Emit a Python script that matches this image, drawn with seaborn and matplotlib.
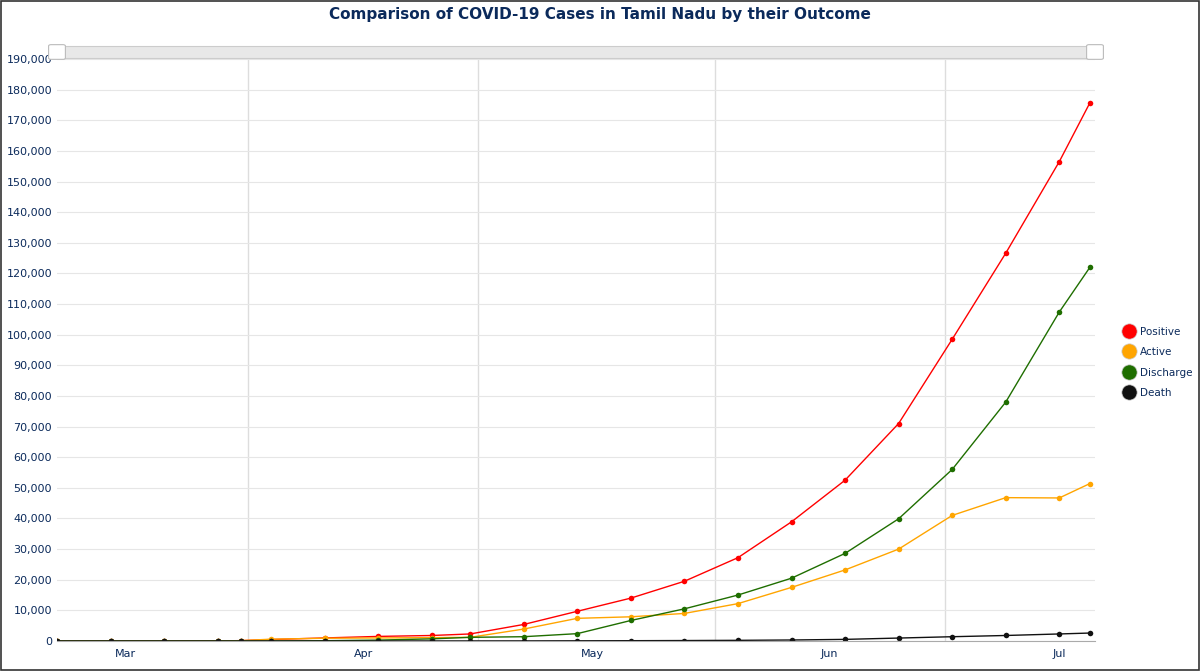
import matplotlib
matplotlib.use("Agg")
import matplotlib.pyplot as plt
import matplotlib.dates as mdates
from matplotlib.patches import FancyBboxPatch, Rectangle
from matplotlib.lines import Line2D
import seaborn as sns
import pandas as pd

# Data (weekly snapshots)
dates = ["2020-03-07", "2020-03-14", "2020-03-21", "2020-03-28", "2020-03-31", "2020-04-04",
         "2020-04-11", "2020-04-18", "2020-04-25", "2020-04-30", "2020-05-07", "2020-05-14",
         "2020-05-21", "2020-05-28", "2020-06-04", "2020-06-11", "2020-06-18", "2020-06-25",
         "2020-07-02", "2020-07-09", "2020-07-16", "2020-07-20"]
positive = [1, 2, 6, 40, 120, 480, 1000, 1500, 1800, 2300, 5400, 9700,
            14000, 19500, 27200, 38900, 52500, 71000, 98500, 126600, 156500, 175700]
active = [1, 2, 6, 40, 110, 600, 900, 1000, 1100, 1200, 3900, 7400,
          7900, 9000, 12200, 17500, 23200, 30000, 41000, 46800, 46700, 51400]
discharge = [0, 0, 0, 0, 6, 10, 100, 300, 700, 1200, 1400, 2400,
             6700, 10500, 15000, 20500, 28600, 39900, 56000, 78000, 107400, 122000]
death = [0, 0, 0, 0, 1, 3, 10, 15, 22, 27, 37, 66,
         100, 150, 220, 330, 530, 960, 1400, 1800, 2300, 2600]

series_names = ["Positive", "Active", "Discharge", "Death"]
series_colors = ["#ff0000", "#ffa500", "#1f6e00", "#111111"]

df = pd.DataFrame({"date": pd.to_datetime(dates), "Positive": positive, "Active": active,
                   "Discharge": discharge, "Death": death})
long_df = df.melt(id_vars="date", var_name="series", value_name="cases")

navy = "#0b2a5b"
fig = plt.figure(figsize=(12, 6.71), dpi=100)
ax = fig.add_axes([57 / 1200, 30 / 671, 1038 / 1200, 582 / 671])

sns.lineplot(data=long_df, x="date", y="cases", hue="series", hue_order=series_names,
             palette=series_colors, marker="o", markersize=4, markeredgewidth=0,
             linewidth=1, legend=False, ax=ax)

ax.set_xlim(pd.Timestamp("2020-03-07"), pd.Timestamp("2020-07-20 16:00"))
ax.set_ylim(0, 190000)
ax.set_yticks(range(0, 190001, 10000))
ax.yaxis.set_major_formatter(matplotlib.ticker.FuncFormatter(lambda v, p: f"{int(v):,}"))
ax.xaxis.set_major_locator(mdates.MonthLocator())
ax.xaxis.set_major_formatter(matplotlib.ticker.NullFormatter())
ax.xaxis.set_minor_locator(mdates.MonthLocator(bymonthday=16))
ax.xaxis.set_minor_formatter(mdates.DateFormatter("%b"))
ax.tick_params(axis="x", which="both", length=0, colors=navy, labelsize=8, pad=6)
ax.tick_params(axis="y", length=0, colors=navy, labelsize=8)
ax.grid(axis="y", color="#e6e6e6", linewidth=0.8)
ax.grid(axis="x", which="major", color="#dddddd", linewidth=1)
ax.set_xlabel("")
ax.set_ylabel("")
for s in ["top", "right", "left"]:
    ax.spines[s].set_visible(False)
ax.spines["bottom"].set_color("#aaaaaa")

# Title
fig.text(0.5, 0.978, "Comparison of COVID-19 Cases in Tamil Nadu by their Outcome",
         ha="center", va="center", color=navy, fontsize=11, fontweight="bold")

# Scrollbar strip at the top
fig.patches.append(Rectangle((57 / 1200, 613 / 671), 1038 / 1200, 12 / 671,
                             transform=fig.transFigure, facecolor="#e8e8e8",
                             edgecolor="#cccccc", linewidth=0.8))
for hx in [57, 1095]:
    fig.patches.append(FancyBboxPatch((hx / 1200 - 0.005, 613 / 671), 0.01, 12 / 671,
                                      boxstyle="round,pad=0.002", transform=fig.transFigure,
                                      facecolor="white", edgecolor="#bbbbbb", linewidth=0.8))

# Legend
handles = [Line2D([], [], marker="o", linestyle="", markersize=11, markerfacecolor=c,
                  markeredgecolor="#cccccc", markeredgewidth=0.5) for c in series_colors]
leg = fig.legend(handles, series_names, loc="center left", bbox_to_anchor=(0.932, 0.46),
                 frameon=False, fontsize=7.5, handletextpad=0.1, labelspacing=1.0,
                 borderpad=0, borderaxespad=0)
for t in leg.get_texts():
    t.set_color(navy)

# Outer frame
fig.patches.append(Rectangle((0.001, 0.001), 0.998, 0.998, transform=fig.transFigure,
                             fill=False, edgecolor="#333333", linewidth=1.2))

fig.savefig("out.png", dpi=100)
